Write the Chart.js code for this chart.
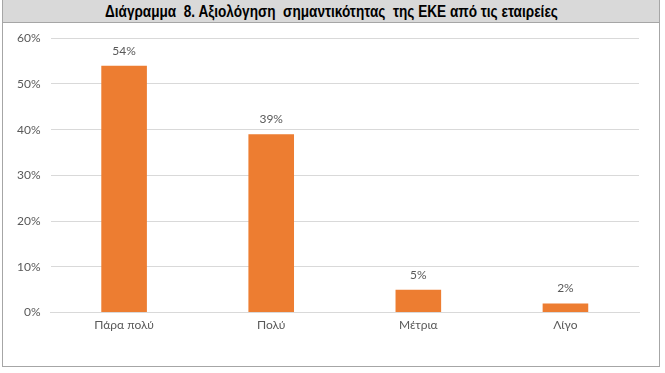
<!DOCTYPE html>
<html><head><meta charset="utf-8">
<script src="https://cdn.jsdelivr.net/npm/chart.js@4/dist/chart.umd.min.js"></script>
<style>
html,body{margin:0;padding:0;background:#fff;}
#wrap{position:absolute;left:2px;top:0;width:656px;height:366px;border:1px solid #a6a6a6;border-top:none;}
#title{position:absolute;left:0;top:0;width:656px;height:22px;background:#d9d9d9;border-bottom:1px solid #a6a6a6;
font-family:"Liberation Sans Narrow","Arial Narrow","Liberation Sans",sans-serif;font-weight:bold;font-size:16px;line-height:23px;text-align:center;color:#000;white-space:pre;}
#title span{display:inline-block;transform:scaleX(0.85);transform-origin:center;}
#cv{position:absolute;left:1px;top:21px;}
</style></head>
<body>
<div id="wrap"><div id="title"><span>Διάγραμμα  8. Αξιολόγηση  σημαντικότητας  της ΕΚΕ από τις εταιρείες</span></div>
<canvas id="cv" width="655" height="342"></canvas></div>
<script>
const categories = ["Πάρα πολύ", "Πολύ", "Μέτρια", "Λίγο"];
const values = [54, 39, 5, 2];
const yTicks = [0, 10, 20, 30, 40, 50, 60];

const labelPlugin = {
  id: 'lbl',
  afterDatasetsDraw(chart) {
    const ctx = chart.ctx;
    const meta = chart.getDatasetMeta(0);
    ctx.save();
    ctx.font = '12px Lato, "Open Sans", sans-serif';
    ctx.fillStyle = '#595959';
    ctx.textAlign = 'center';
    ctx.textBaseline = 'middle';
    meta.data.forEach((bar, i) => {
      ctx.fillText(values[i] + '%', bar.x, bar.y - 15);
    });
    ctx.restore();
  }
};

new Chart(document.getElementById('cv'), {
  type: 'bar',
  data: { labels: categories, datasets: [{ data: values, backgroundColor: '#ed7d31', categoryPercentage: 1, barPercentage: 0.31 }] },
  options: {
    responsive: false, animation: false,
    layout: { padding: { top: 0, right: 20, left: 3, bottom: 26 } },
    plugins: { legend: { display: false }, tooltip: { enabled: false } },
    scales: {
      x: { grid: { display: false, drawTicks: false }, border: { color: '#d9d9d9' },
           ticks: { color: '#595959', font: { family: 'Lato, "Open Sans", sans-serif', size: 12 }, padding: 5 } },
      y: { min: 0, max: 60, afterBuildTicks(ax) { ax.ticks = yTicks.map(v => ({ value: v })); },
           grid: { color: '#d9d9d9', drawTicks: false }, border: { display: false },
           ticks: { color: '#595959', padding: 10, font: { family: 'Lato, "Open Sans", sans-serif', size: 12 }, callback: v => v + '%' } }
    }
  },
  plugins: [labelPlugin]
});
</script>
</body></html>
